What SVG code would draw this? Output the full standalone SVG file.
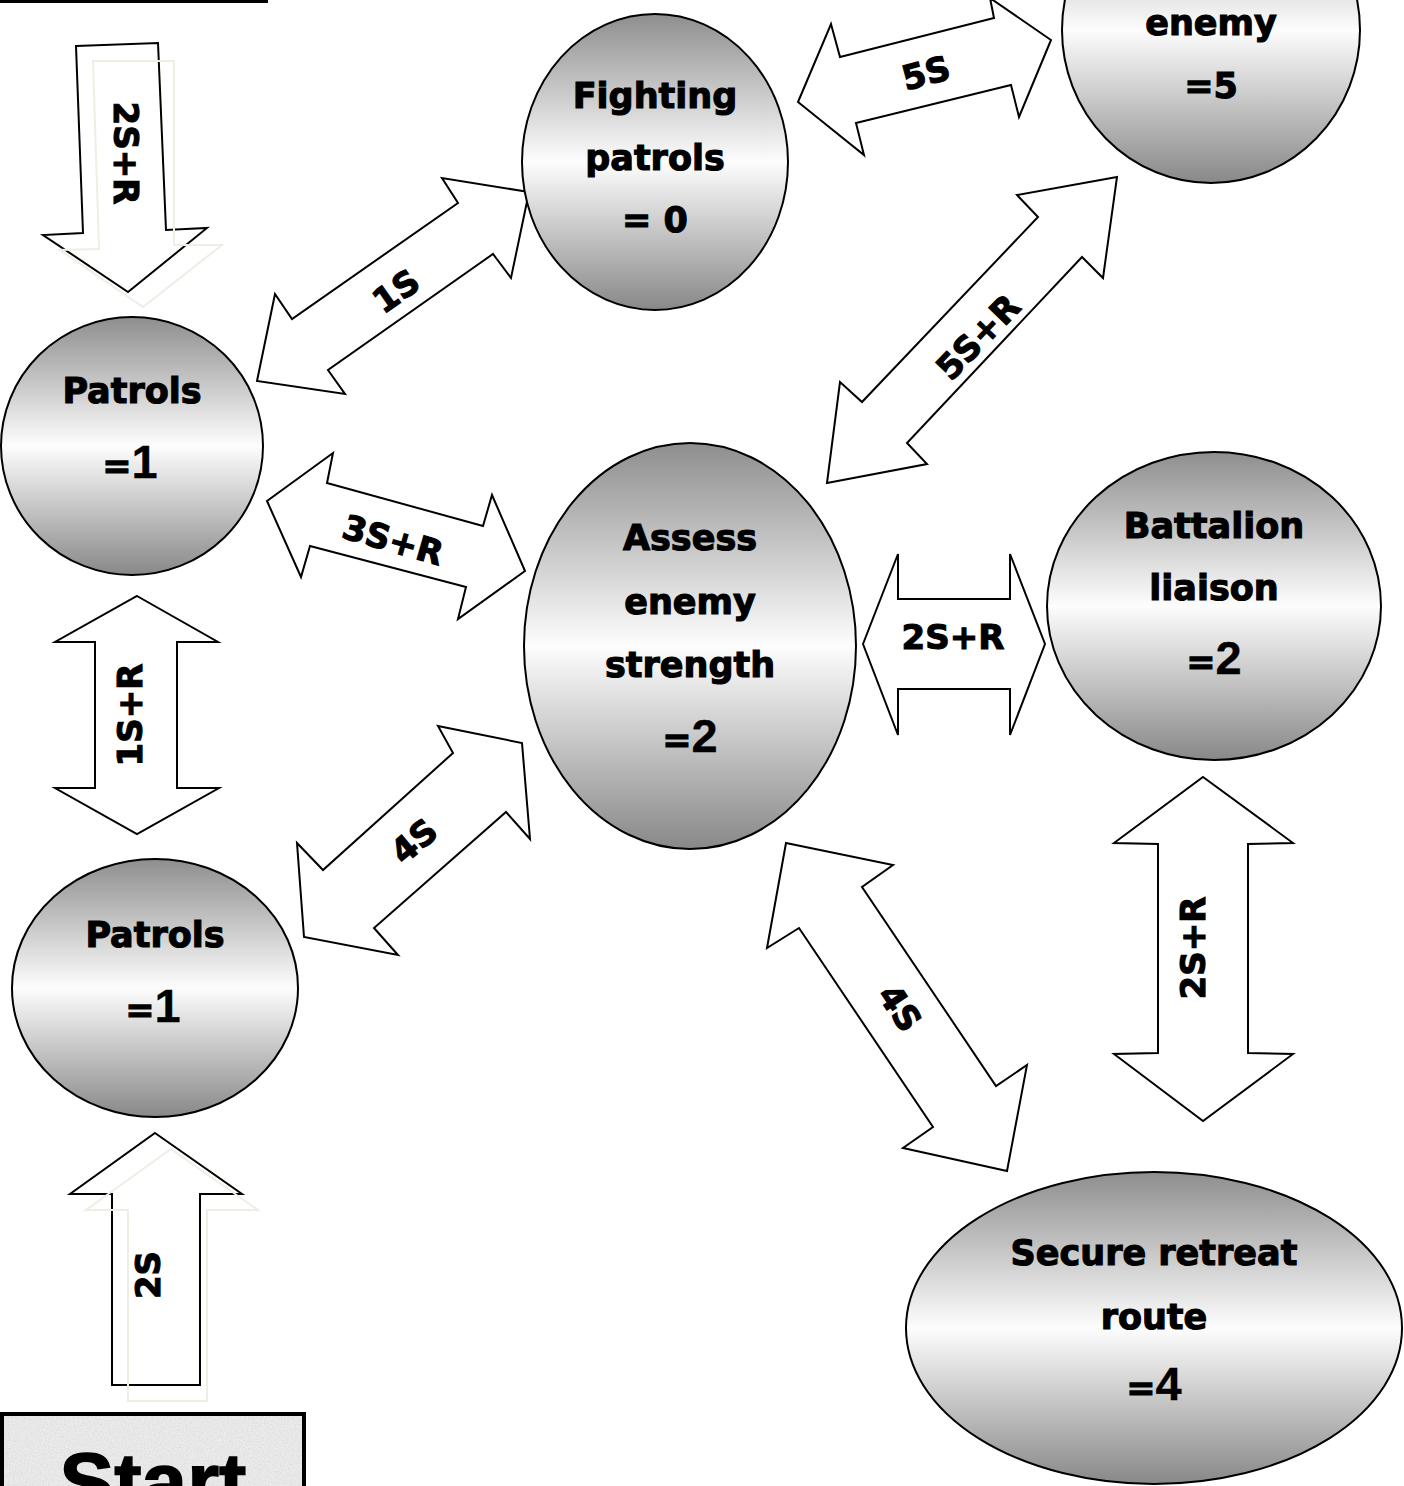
<svg xmlns="http://www.w3.org/2000/svg" width="1404" height="1486" viewBox="0 0 1404 1486">
<style>
.lbl{font-family:"DejaVu Sans",Arial,sans-serif;font-weight:bold;font-size:35px;text-anchor:middle;fill:#000;stroke:#000;stroke-width:1.1px}
.alb{font-family:"DejaVu Sans",Arial,sans-serif;font-weight:bold;font-size:34px;text-anchor:middle;fill:#000;stroke:#000;stroke-width:1.1px}
.big{font-family:"Liberation Sans",Arial,sans-serif;font-weight:bold;font-size:47px;stroke-width:0.3px}
.arr{fill:#fff;stroke:#000;stroke-width:2;stroke-linejoin:miter}
.shadow{fill:none;stroke:#efeee4;stroke-width:2}
.node{fill:url(#g);stroke:#000;stroke-width:2}
</style>
<defs>
<linearGradient id="g" x1="0" y1="0" x2="0" y2="1">
<stop offset="0" stop-color="#8e8e8e"/>
<stop offset="0.5" stop-color="#fdfdfd"/>
<stop offset="1" stop-color="#888888"/>
</linearGradient>
<filter id="noise" x="0" y="0" width="1" height="1">
<feTurbulence type="fractalNoise" baseFrequency="0.7" numOctaves="3" seed="4"/>
<feColorMatrix type="matrix" values="0 0 0 0 0.6  0 0 0 0 0.6  0 0 0 0 0.6  0 0 0 0.9 -0.3"/>
</filter>
</defs>
<rect x="0" y="0" width="268" height="3" fill="#000"/>

<g id="connectors">
  <g id="c-top">
    <polygon class="arr" points="76,46 158,43 166,230 207,228 128,292 43,235 83,233"/>
    <polygon class="shadow" points="93,61 174,61 174,245 222,245 143,307 60,250 99,249"/>
    <text class="alb" transform="translate(126,153) rotate(90)" y="12">2S+R</text>
  </g>
  <g id="c-1S">
    <polygon class="arr" points="257,381 275,294 292,319 458,203 442,178 529,192 511,278 493,254 328,370 345,394"/>
    <text class="alb" transform="translate(396,291) rotate(-35)" y="12">1S</text>
  </g>
  <g id="c-5S">
    <polygon class="arr" points="798,102 831,24 840,57 994,18 990,-2 1051,40 1019,117 1011,85 856,123 864,155"/>
    <text class="alb" transform="translate(926,73) rotate(-15)" y="12">5S</text>
  </g>
  <g id="c-3SR">
    <polygon class="arr" points="267,501 333,453 327,483 483,526 492,495 525,571 458,619 466,587 310,546 301,577"/>
    <text class="alb" transform="translate(393,540) rotate(16)" y="12">3S+R</text>
  </g>
  <g id="c-5SR">
    <polygon class="arr" points="827,483 840,382 862,402 1038,217 1017,195 1117,177 1103,278 1082,257 907,443 927,464"/>
    <text class="alb" transform="translate(978,337) rotate(-46)" y="12">5S+R</text>
  </g>
  <g id="c-1SR">
    <polygon class="arr" points="137,596 218,642 177,642 177,788 219,788 137,834 55,788 95,788 95,642 55,642"/>
    <text class="alb" transform="translate(130,715) rotate(-90)" y="12">1S+R</text>
  </g>
  <g id="c-4S-left">
    <polygon class="arr" points="438,726 522,743 530,839 506,812 374,928 398,955 304,937 297,843 323,870 453,753"/>
    <text class="alb" transform="translate(414,841) rotate(-40)" y="12">4S</text>
  </g>
  <g id="c-2SR-h">
    <polygon class="arr" points="863,644 898,554 898,599 1010,599 1010,554 1045,644 1010,735 1010,689 898,689 898,735"/>
    <text class="alb" x="953" y="649">2S+R</text>
  </g>
  <g id="c-2SR-v">
    <polygon class="arr" points="1203,777 1293,843 1248,844 1248,1053 1293,1054 1203,1121 1114,1054 1158,1053 1158,844 1114,843"/>
    <text class="alb" transform="translate(1193,948) rotate(-90)" y="12">2S+R</text>
  </g>
  <g id="c-4S-right">
    <polygon class="arr" points="786,843 893,865 862,887 996,1086 1027,1065 1007,1171 903,1148 933,1127 799,928 767,948"/>
    <text class="alb" transform="translate(900,1008) rotate(56)" y="12">4S</text>
  </g>
  <g id="c-2S">
    <polygon class="arr" points="155,1133 242,1194 200,1194 200,1385 112,1385 112,1194 70,1194"/>
    <polygon class="shadow" points="171,1149 258,1210 207,1210 207,1401 128,1401 128,1210 86,1210"/>
    <text class="alb" transform="translate(148,1275) rotate(-90)" y="12">2S</text>
  </g>
</g>

<g id="node-attack-enemy">
  <ellipse class="node" cx="1211" cy="30" rx="149" ry="153"/>
  <text class="lbl" x="1211" y="35">enemy</text>
  <text class="lbl" x="1211" y="98">=5</text>
</g>
<g id="node-fighting-patrols">
  <ellipse class="node" cx="655" cy="162" rx="133" ry="148"/>
  <text class="lbl" x="655" y="108">Fighting</text>
  <text class="lbl" x="655" y="170">patrols</text>
  <text class="lbl" x="655" y="232">= 0</text>
</g>
<g id="node-patrols-1">
  <ellipse class="node" cx="132" cy="446" rx="131" ry="129"/>
  <text class="lbl" x="132" y="403">Patrols</text>
  <text class="lbl" x="130" y="478">=<tspan class="big">1</tspan></text>
</g>
<g id="node-assess">
  <ellipse class="node" cx="690" cy="646" rx="166" ry="203"/>
  <text class="lbl" x="690" y="550">Assess</text>
  <text class="lbl" x="690" y="614">enemy</text>
  <text class="lbl" x="690" y="677">strength</text>
  <text class="lbl" x="690" y="752">=<tspan class="big">2</tspan></text>
</g>
<g id="node-battalion">
  <ellipse class="node" cx="1214" cy="606" rx="167" ry="154"/>
  <text class="lbl" x="1214" y="538">Battalion</text>
  <text class="lbl" x="1214" y="600">liaison</text>
  <text class="lbl" x="1214" y="674">=<tspan class="big">2</tspan></text>
</g>
<g id="node-patrols-2">
  <ellipse class="node" cx="155" cy="988" rx="143" ry="129"/>
  <text class="lbl" x="155" y="947">Patrols</text>
  <text class="lbl" x="153" y="1022">=<tspan class="big">1</tspan></text>
</g>
<g id="node-secure">
  <ellipse class="node" cx="1154" cy="1328" rx="248" ry="156"/>
  <text class="lbl" x="1154" y="1265">Secure retreat</text>
  <text class="lbl" x="1154" y="1329">route</text>
  <text class="lbl" x="1154" y="1400">=<tspan class="big">4</tspan></text>
</g>
<g id="node-start">
  <rect x="2" y="1414" width="302" height="80" fill="#ececec" stroke="#000" stroke-width="4"/>
  <rect x="4" y="1416" width="298" height="70" fill="#fff" filter="url(#noise)"/>
  <text x="153" y="1510" text-anchor="middle" style="font-family:'Liberation Sans',Arial,sans-serif;font-weight:bold;font-size:82px;stroke:#000;stroke-width:1.5px" fill="#000">Start</text>
</g>
</svg>
